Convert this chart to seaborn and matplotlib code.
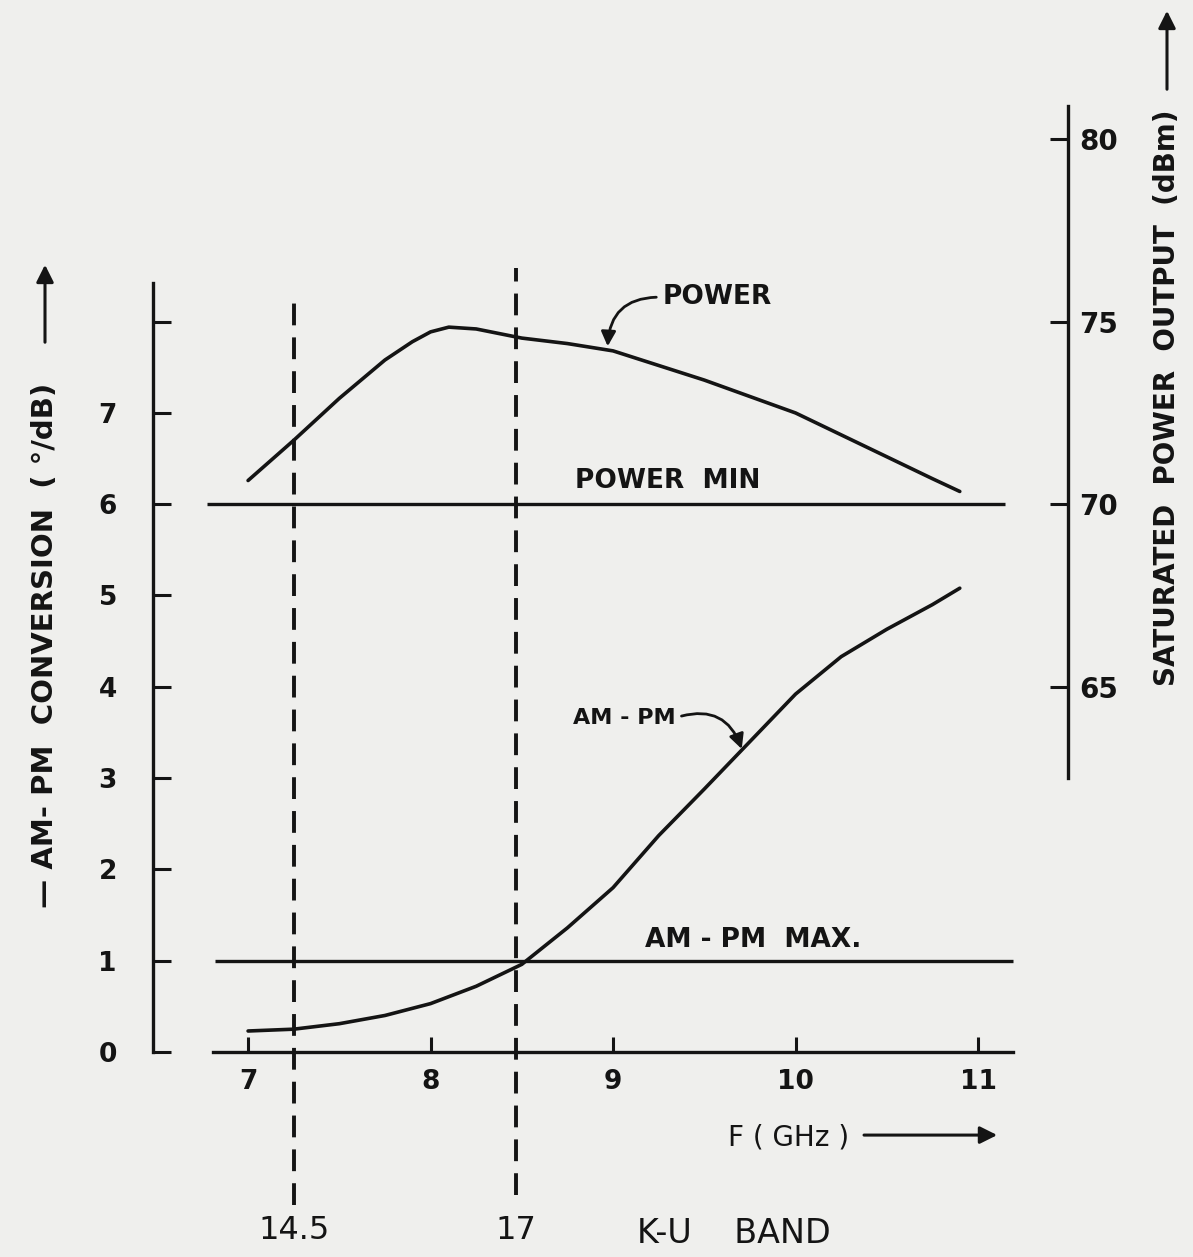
import matplotlib
matplotlib.use("Agg")
import matplotlib.pyplot as plt
import seaborn as sns

# values
freq_power = [7.0, 7.25, 7.5, 7.75, 7.9, 8.0, 8.1, 8.25, 8.5, 8.75, 9.0,
              9.25, 9.5, 9.75, 10.0, 10.25, 10.5, 10.75, 10.9]
power_dbm = [70.65, 71.75, 72.9, 73.95, 74.45, 74.72, 74.85, 74.8, 74.55, 74.4, 74.2,
             73.8, 73.4, 72.95, 72.5, 71.9, 71.3, 70.7, 70.35]

freq_ampm = [7.0, 7.25, 7.5, 7.75, 8.0, 8.25, 8.5, 8.75, 9.0, 9.25, 9.5,
             9.75, 10.0, 10.25, 10.5, 10.75, 10.9]
ampm = [0.23, 0.25, 0.31, 0.40, 0.53, 0.72, 0.96, 1.36, 1.80, 2.37, 2.88,
        3.40, 3.92, 4.33, 4.63, 4.90, 5.08]

power_min = 70      # dBm
ampm_max = 1        # deg/dB
band_edges = [7.25, 8.47]
band_labels = ["14.5", "17"]
x_ticks = [7, 8, 9, 10, 11]
left_ticks = [0, 1, 2, 3, 4, 5, 6, 7, 8]
right_ticks = [65, 70, 75, 80]

ink = "#141414"
bg = "#efefed"

sns.set_style("white")
plt.rcParams['font.family'] = ['DejaVu Sans']
plt.rcParams['font.weight'] = 'bold'

fig = plt.figure(figsize=(11.93, 12.57), dpi=100)
fig.patch.set_facecolor(bg)
ax = fig.add_axes([153 / 1193, 1 - 1052 / 1257, 915 / 1193, 952 / 1257])
ax.set_facecolor("none")
ax2 = ax.twinx()
ax2.set_facecolor("none")

sns.lineplot(x=freq_ampm, y=ampm, ax=ax, color=ink, lw=2.6)
sns.lineplot(x=freq_power, y=power_dbm, ax=ax2, color=ink, lw=2.6)

ax.set_xlim(6.479, 11.493)
ax.set_ylim(0, 10.427)
ax2.set_ylim(55, 81.07)

# spec lines
ax2.hlines(power_min, 6.775, 11.15, color=ink, lw=2.4)
ax.hlines(ampm_max, 6.82, 11.19, color=ink, lw=2.4)

# band edges (dashed, running below the axis)
ax.axvline(band_edges[0], ymin=-0.161, ymax=0.795, clip_on=False,
           color=ink, lw=2.8, ls=(0, (5.6, 3.1)))
ax.axvline(band_edges[1], ymin=-0.150, ymax=0.824, clip_on=False,
           color=ink, lw=2.8, ls=(0, (5.6, 3.1)))
for x, lab in zip(band_edges, band_labels):
    ax.text(x, -1.95, lab, ha='center', va='center', fontsize=23,
            fontweight='normal', color=ink)
ax.text(9.13, -1.99, "K-U    BAND", ha='left', va='center', fontsize=24,
        fontweight='normal', color=ink)

# spines and ticks
for s in ["top", "right"]:
    ax.spines[s].set_visible(False)
for s in ["top", "left", "bottom"]:
    ax2.spines[s].set_visible(False)
ax.spines["left"].set_bounds(0, 8.42)
ax.spines["bottom"].set_bounds(6.81, 11.19)
ax2.spines["right"].set_bounds(62.5, 80.9)
for sp in [ax.spines["left"], ax.spines["bottom"], ax2.spines["right"]]:
    sp.set_linewidth(2.4)
    sp.set_color(ink)

ax.set_xticks(x_ticks)
ax.set_xticklabels([str(t) for t in x_ticks])
ax.set_yticks(left_ticks)
ax.set_yticklabels([str(t) for t in left_ticks[:-1]] + [""])
ax2.set_yticks(right_ticks)
ax2.set_yticklabels([str(t) for t in right_ticks])
ax.tick_params(axis='x', bottom=True, direction='in', length=11, width=2.2,
               pad=12, labelsize=19, colors=ink)
ax.tick_params(axis='y', left=True, direction='in', length=13, width=2.2,
               pad=26, labelsize=19, colors=ink)
ax2.tick_params(axis='y', right=True, direction='in', length=13, width=2.2,
                pad=8, labelsize=20, colors=ink)

# curve labels
ax2.annotate("POWER", xy=(8.97, 74.25), xytext=(9.27, 75.67), ha='left', va='center',
             fontsize=19, color=ink,
             arrowprops=dict(arrowstyle='-|>', color=ink, lw=2, mutation_scale=22,
                             relpos=(0, 0.5), connectionstyle="arc3,rad=0.5"))
ax2.text(9.3, 70.65, "POWER  MIN", ha='center', va='center', fontsize=19, color=ink)
ax.annotate("AM - PM", xy=(9.71, 3.29), xytext=(8.78, 3.66), ha='left', va='center',
            fontsize=16, color=ink,
            arrowprops=dict(arrowstyle='-|>', color=ink, lw=2, mutation_scale=22,
                            relpos=(1, 0.5), connectionstyle="arc3,rad=-0.5"))
ax.text(9.77, 1.23, "AM - PM  MAX.", ha='center', va='center', fontsize=19, color=ink)

# axis titles with hand-drawn style arrows
ax.text(9.96, -0.94, "F ( GHz )", ha='center', va='center', fontsize=20,
        fontweight='normal', color=ink)
ax.annotate("", xy=(11.12, -0.91), xytext=(10.36, -0.91), annotation_clip=False,
            arrowprops=dict(arrowstyle='-|>', color=ink, lw=2.2, mutation_scale=26))

fig.text(45 / 1193, 1 - 645 / 1257, "— AM- PM  CONVERSION  ( °/dB)", rotation=90,
         ha='center', va='center', fontsize=21, color=ink)
ax.annotate("", xy=(45, 1257 - 262), xycoords='figure pixels',
            xytext=(45, 1257 - 345), textcoords='figure pixels', annotation_clip=False,
            arrowprops=dict(arrowstyle='-|>', color=ink, lw=2.2, mutation_scale=26))
fig.text(1167 / 1193, 1 - 398 / 1257, "SATURATED  POWER  OUTPUT  (dBm)", rotation=90,
         ha='center', va='center', fontsize=20, color=ink)
ax.annotate("", xy=(1167, 1257 - 8), xycoords='figure pixels',
            xytext=(1167, 1257 - 92), textcoords='figure pixels', annotation_clip=False,
            arrowprops=dict(arrowstyle='-|>', color=ink, lw=2.2, mutation_scale=26))

fig.savefig("out.png", dpi=100, facecolor=bg)
